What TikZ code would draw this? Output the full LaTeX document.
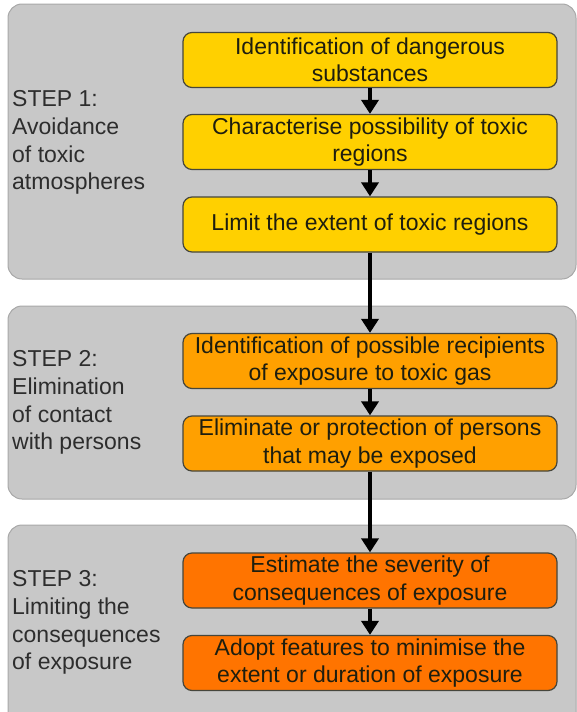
\documentclass[tikz,border=0pt]{standalone}
\usepackage{fontspec}
\setmainfont{Liberation Sans}
\usetikzlibrary{arrows.meta}
\definecolor{groupfill}{RGB}{200,200,200}
\definecolor{groupline}{RGB}{168,168,168}
\definecolor{boxline}{RGB}{70,70,60}
\definecolor{labeltext}{RGB}{45,45,45}
\definecolor{boxtext}{RGB}{30,30,15}
\definecolor{stepyellow}{RGB}{255,208,0}
\definecolor{steporange}{RGB}{255,160,0}
\definecolor{stepdark}{RGB}{255,116,0}
\tikzset{
  group/.style={fill=groupfill, draw=groupline, line width=1pt, rounded corners=14pt},
  stepbox/.style={draw=boxline, line width=1.2pt, rounded corners=9pt,
    minimum width=374pt, minimum height=55pt, inner sep=0pt, align=center,
    text=boxtext, font=\fontsize{23}{27.5}\selectfont},
  steplabel/.style={anchor=north west, align=left, inner sep=0pt,
    text=labeltext, font=\fontsize{23}{27.7}\selectfont},
  flow/.style={line width=4pt, -{Triangle[width=17pt,length=14pt]}}
}
\begin{document}
\begin{tikzpicture}[x=1pt,y=-1pt]
\useasboundingbox (0,0) rectangle (577,712);
\begin{scope}
\clip (0,0) rectangle (577,712);
% grey panels, one per step
\draw[group] (8,4) rectangle (576,279);
\draw[group] (8,306) rectangle (576,499);
\draw[group] (8,525) rectangle (576,740);

% step 1
\node[stepbox, fill=stepyellow] (b1) at (370,60) {Identification of dangerous\\substances};
\node[stepbox, fill=stepyellow] (b2) at (370,142) {Characterise possibility of toxic\\regions};
\node[stepbox, fill=stepyellow] (b3) at (370,224.5) {Limit the extent of toxic regions};
% step 2
\node[stepbox, fill=steporange] (b4) at (370,361) {Identification of possible recipients\\of exposure to toxic gas};
\node[stepbox, fill=steporange] (b5) at (370,443.5) {Eliminate or protection of persons\\that may be exposed};
% step 3
\node[stepbox, fill=stepdark] (b6) at (370,580.5) {Estimate the severity of\\consequences of exposure};
\node[stepbox, fill=stepdark] (b7) at (370,663) {Adopt features to minimise the\\extent or duration of exposure};

% side labels
\node[steplabel] (s1) at (12,90.5) {STEP 1:\\Avoidance\\of toxic\\atmospheres};
\node[steplabel] (s2) at (12,350.5) {STEP 2:\\Elimination\\of contact\\with persons};
\node[steplabel] (s3) at (12,570.5) {STEP 3:\\Limiting the\\consequences\\of exposure};

% connectors
\draw[flow] (b1) -- (b2);
\draw[flow] (b2) -- (b3);
\draw[flow] (b3) -- (b4);
\draw[flow] (b4) -- (b5);
\draw[flow] (b5) -- (b6);
\draw[flow] (b6) -- (b7);
\end{scope}
\end{tikzpicture}
\end{document}
